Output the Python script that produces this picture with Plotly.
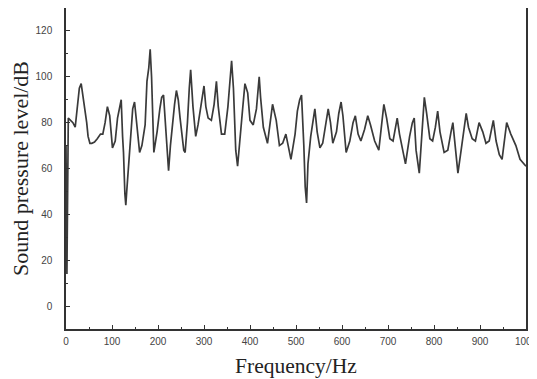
import plotly.graph_objects as go

freq = [0, 2, 5, 10, 15, 20, 25, 29, 33, 37, 41, 45, 48, 52, 56, 62, 68, 75, 80, 85, 90, 95, 101, 107, 112, 117, 120, 123, 125, 128, 130, 132, 135, 140, 145, 149, 154, 160, 165, 172, 176, 180, 183, 186, 191, 198, 204, 208, 212, 216, 220, 223, 227, 232, 236, 240, 244, 248, 252, 256, 259, 264, 268, 271, 276, 282, 287, 293, 300, 304, 309, 316, 322, 327, 331, 338, 345, 352, 357, 360, 364, 369, 373, 378, 384, 389, 395, 400, 407, 414, 420, 423, 429, 438, 445, 449, 457, 464, 471, 478, 483, 489, 498, 503, 508, 512, 517, 520, 523, 526, 532, 536, 541, 546, 552, 558, 563, 570, 575, 580, 588, 593, 598, 602, 609, 617, 624, 629, 635, 641, 649, 656, 662, 671, 680, 685, 691, 697, 704, 711, 720, 725, 732, 738, 747, 753, 757, 761, 768, 772, 777, 779, 784, 791, 797, 803, 808, 813, 822, 830, 837, 841, 846, 852, 859, 866, 870, 875, 883, 890, 898, 906, 913, 920, 929, 935, 942, 948, 953, 958, 967, 978, 987, 996, 1000]
spl = [70, 14, 82, 81, 80, 78, 88, 95, 97, 92, 87, 80, 74, 71, 71, 71.5, 73, 75, 75, 80, 87, 83, 69, 72, 82, 88, 90, 74, 67, 49, 44, 50, 58, 75, 86, 89, 80, 67, 70, 79, 98, 104, 112, 100, 67, 76, 86, 91, 92, 79, 66, 59, 70, 82, 88, 94, 90, 82, 75, 68, 67, 80, 95, 103, 87, 74, 79, 86, 96, 87, 82, 81, 88, 98, 87, 75, 75, 87, 100, 107, 95, 68, 61, 71, 86, 97, 93, 81, 79, 86, 100, 91, 78, 71, 81, 88, 81, 70, 71, 75, 70, 64, 75, 85, 90, 92, 70, 52, 45, 62, 74, 80, 86, 76, 69, 71, 78, 86, 80, 71, 76, 84, 89, 83, 67, 72, 80, 83, 75, 72, 77, 83, 79, 72, 68, 76, 88, 82, 73, 72, 82, 75, 67, 62, 74, 80, 82, 68, 58, 72, 84, 91, 84, 73, 72, 78, 85, 76, 67, 68, 76, 80, 70, 58, 68, 77, 84, 78, 73, 72, 80, 76, 71, 72, 81, 72, 66, 64, 72, 80, 75, 70, 64, 62, 61]

x_ticks = [0, 100, 200, 300, 400, 500, 600, 700, 800, 900, 1000]
y_ticks = [0, 20, 40, 60, 80, 100, 120]

fig = go.Figure()
fig.add_trace(go.Scatter(
    x=freq, y=spl, mode="lines",
    line=dict(color="#3a3a3a", width=1.7),
    showlegend=False, hoverinfo="skip",
))

axis_common = dict(
    showline=True, linecolor="#333333", linewidth=1.5, mirror=True,
    showgrid=False, zeroline=False, automargin=False,
    ticks="inside", ticklen=4, tickwidth=1.2, tickcolor="#333333",
    tickfont=dict(family="Liberation Sans, Arial, sans-serif", size=10, color="#444444"),
)

# page body has an 8px default margin, so the figure is sized to fit the window
fig.update_layout(
    width=529, height=371,
    margin=dict(l=58, r=11, t=0, b=50),
    paper_bgcolor="white", plot_bgcolor="white",
    xaxis=dict(
        range=[0, 1000], tickvals=x_ticks, ticktext=[str(v) for v in x_ticks],
        ticklabeloverflow="allow", ticklabelstandoff=2,
        minor=dict(dtick=50, ticks="inside", ticklen=2, tickcolor="#333333", tickwidth=1),
        title=dict(text="Frequency/Hz", standoff=12,
                   font=dict(family="Liberation Serif, Times New Roman, serif", size=21.5, color="#222222")),
        **axis_common,
    ),
    yaxis=dict(
        range=[-10, 130], tickvals=y_ticks, ticktext=[str(v) for v in y_ticks],
        ticklabelstandoff=10,
        minor=dict(dtick=10, ticks="inside", ticklen=2, tickcolor="#333333", tickwidth=1),
        title=dict(text="Sound pressure level/dB", standoff=5,
                   font=dict(family="Liberation Serif, Times New Roman, serif", size=22, color="#222222")),
        **axis_common,
    ),
)

fig.write_html("out.html")
